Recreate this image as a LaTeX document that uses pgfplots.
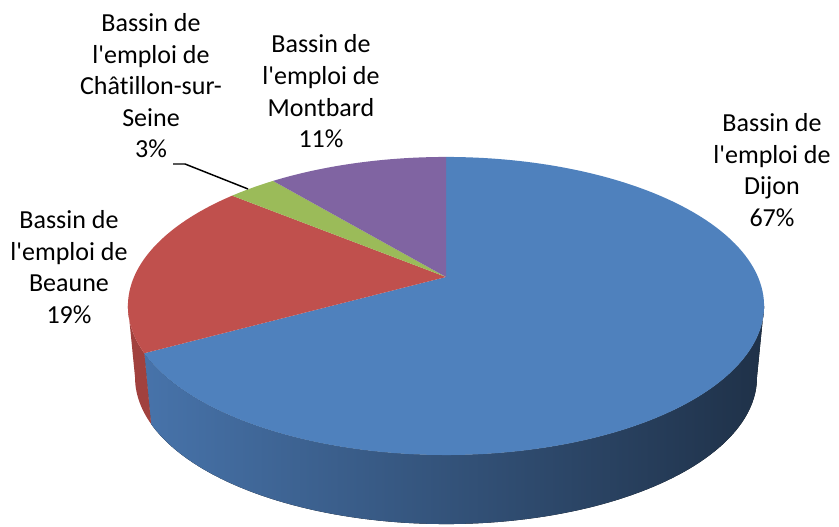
\documentclass[border=0pt]{standalone}
\usepackage{fontspec}
\setmainfont{Carlito}[Ligatures={TeX,NoCommon}]
\usepackage{pgfplots}
\pgfplotsset{compat=1.18}
\usepackage{pgfplotstable}
\usepgfplotslibrary{fillbetween}
\definecolor{cBlue}{HTML}{4F81BD}
\definecolor{cRed}{HTML}{C0504D}
\definecolor{cGreen}{HTML}{9BBB59}
\definecolor{cPurple}{HTML}{8064A2}
\definecolor{cRedSide}{HTML}{A1413E}
\definecolor{cBlueSideL}{HTML}{4773AA}
\definecolor{cBlueSideR}{HTML}{1F3148}
\newcommand\lbl{\fontsize{19.5pt}{23.6pt}\selectfont}
\newcommand\ap{\textquotesingle}

% shares in %, clockwise from 12 o'clock: Dijon, Beaune, Chatillon, Montbard
\pgfplotstableread{
share
67
19
3
11
}\shares
\pgfplotstablegetelem{0}{share}\of\shares \let\sA\pgfplotsretval
\pgfplotstablegetelem{1}{share}\of\shares \let\sB\pgfplotsretval
\pgfplotstablegetelem{2}{share}\of\shares \let\sC\pgfplotsretval
\pgfplotstablegetelem{3}{share}\of\shares \let\sD\pgfplotsretval
\pgfmathsetmacro{\aO}{90}
\pgfmathsetmacro{\aA}{\aO-3.6*\sA}
\pgfmathsetmacro{\aB}{\aA-3.6*\sB}
\pgfmathsetmacro{\aC}{\aB-3.6*\sC}
\pgfmathsetmacro{\aD}{\aC-3.6*\sD}
% visible side range (tangent points)
\pgfmathsetmacro{\tR}{-asin(0.1946)}
\pgfmathsetmacro{\tL}{-180-\tR}
\pgfmathsetmacro{\rS}{max(\aB,\tL)}

\begin{document}
\begin{tikzpicture}[declare function={
  px(\t)=446+312*cos(\t)/(1+0.1946*sin(\t));
  py(\t)=250+143.4*sin(\t)/(1+0.1946*sin(\t));
  bx(\t)=446+305*cos(\t)/(1+0.1946*sin(\t));
  by(\t)=178+141*sin(\t)/(1+0.1946*sin(\t));
}]
\begin{axis}[width=629.25pt, height=395.25pt, scale only axis,
  xmin=0, xmax=839, ymin=0, ymax=527, hide axis, clip=false]
\addplot[draw=none, forget plot] coordinates {(0,0) (839,527)};

% sides
\addplot[draw=none, name path=bt, domain=\aA:\tR, samples=100] ({px(x)},{py(x)});
\addplot[draw=none, name path=bb, domain=\aA:\tR, samples=100] ({bx(x)},{by(x)});
\addplot[left color=cBlueSideL, right color=cBlueSideR, draw=none] fill between[of=bt and bb];
\addplot[draw=none, name path=rt, domain=\rS:\aA, samples=20] ({px(x)},{py(x)});
\addplot[draw=none, name path=rb, domain=\rS:\aA, samples=20] ({bx(x)},{by(x)});
\addplot[fill=cRedSide, draw=none] fill between[of=rt and rb];

% top faces
\addplot[draw=none, fill=cBlue, domain=\aA:\aO, samples=150] ({px(x)},{py(x)}) -- (446,250) -- cycle;
\addplot[draw=none, fill=cRed, domain=\aB:\aA, samples=60] ({px(x)},{py(x)}) -- (446,250) -- cycle;
\addplot[draw=none, fill=cGreen, domain=\aC:\aB, samples=20] ({px(x)},{py(x)}) -- (446,250) -- cycle;
\addplot[draw=none, fill=cPurple, domain=\aD:\aC, samples=40] ({px(x)},{py(x)}) -- (446,250) -- cycle;

% leader line
\addplot[black, line width=1.1pt] coordinates {(173,363) (185,363) (248,338)};

% labels
\begin{scope}[every node/.style={anchor=base, inner sep=0pt, font=\lbl}]
\node at (151,495) {Bassin de};
\node at (151,463.5) {l\ap emploi de};
\node at (151,432) {Châtillon-sur-};
\node at (151,400.5) {Seine};
\node at (151,369) {3\%};
\node at (321,474) {Bassin de};
\node at (321,442) {l\ap emploi de};
\node at (321,410.5) {Montbard};
\node at (321,379) {11\%};
\node at (772,395) {Bassin de};
\node at (772,363.5) {l\ap emploi de};
\node at (772,332) {Dijon};
\node at (772,300.5) {67\%};
\node at (69,298) {Bassin de};
\node at (69,266.5) {l\ap emploi de};
\node at (69,235) {Beaune};
\node at (69,203.5) {19\%};
\end{scope}
\end{axis}
\end{tikzpicture}
\end{document}
